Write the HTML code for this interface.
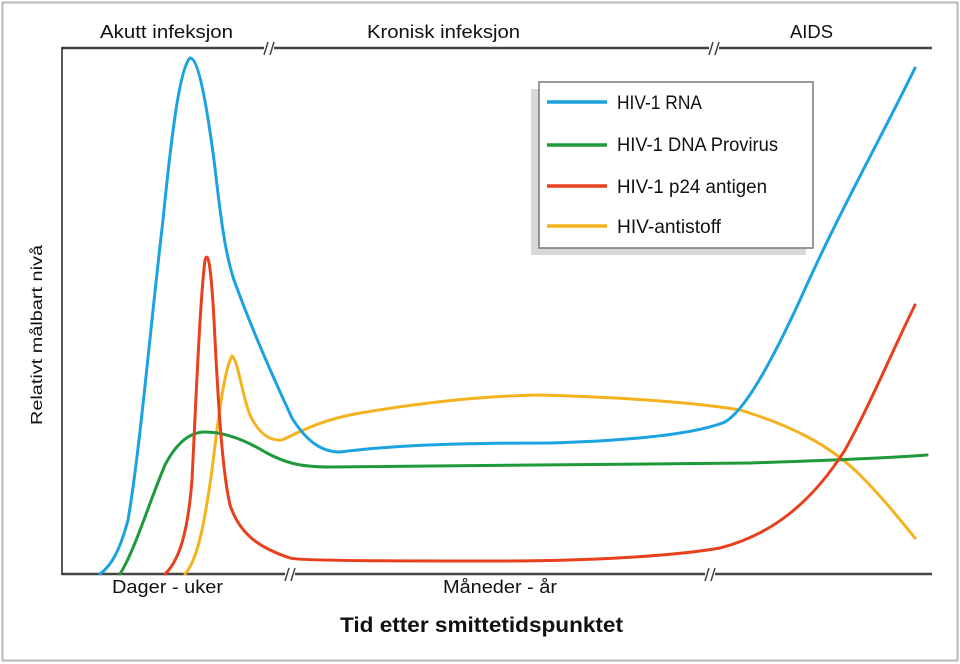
<!DOCTYPE html>
<html><head><meta charset="utf-8"><style>
html,body{margin:0;padding:0;background:#fff;}
svg{display:block;}
text{font-family:"Liberation Sans Narrow","Liberation Sans",sans-serif;fill:#111;}
</style></head><body>
<svg width="960" height="664" viewBox="0 0 960 664" xmlns="http://www.w3.org/2000/svg">
<rect x="2.5" y="2.5" width="955" height="658" fill="#fff" stroke="#b8b8b8" stroke-width="2"/>
<line x1="62" y1="48" x2="932" y2="48" stroke="#444" stroke-width="2.5"/>
<line x1="62" y1="574" x2="932" y2="574" stroke="#444" stroke-width="2.5"/>
<line x1="62" y1="47" x2="62" y2="575" stroke="#222" stroke-width="1.5"/>
<g stroke="#444" stroke-width="1.5">
<rect x="264" y="42" width="10" height="12" fill="#fff" stroke="none"/>
<line x1="264" y1="55" x2="268" y2="42"/><line x1="270" y1="55" x2="274" y2="42"/>
<rect x="709" y="42" width="10" height="12" fill="#fff" stroke="none"/>
<line x1="709" y1="55" x2="713" y2="42"/><line x1="715" y1="55" x2="719" y2="42"/>
<rect x="285" y="568" width="10" height="12" fill="#fff" stroke="none"/>
<line x1="285" y1="581" x2="289" y2="568"/><line x1="291" y1="581" x2="295" y2="568"/>
<rect x="705" y="568" width="10" height="12" fill="#fff" stroke="none"/>
<line x1="705" y1="581" x2="709" y2="568"/><line x1="711" y1="581" x2="715" y2="568"/>
</g>
<text x="100" y="38" font-size="18" textLength="133" lengthAdjust="spacingAndGlyphs">Akutt infeksjon</text>
<text x="367" y="38" font-size="18" textLength="153" lengthAdjust="spacingAndGlyphs">Kronisk infeksjon</text>
<text x="790" y="38" font-size="18" textLength="43" lengthAdjust="spacingAndGlyphs">AIDS</text>
<text x="112" y="593" font-size="18" textLength="111" lengthAdjust="spacingAndGlyphs">Dager - uker</text>
<text x="443" y="593" font-size="18" textLength="114" lengthAdjust="spacingAndGlyphs">Måneder - år</text>
<text x="340" y="632" font-size="21" font-weight="bold" textLength="283" lengthAdjust="spacingAndGlyphs">Tid etter smittetidspunktet</text>
<text transform="translate(42,425) rotate(-90)" font-size="16" textLength="180" lengthAdjust="spacingAndGlyphs">Relativt målbart nivå</text>
<g fill="none" stroke-width="3" stroke-linejoin="round" stroke-linecap="round">
<path stroke="#f4b21e" d="M185,574 C198,560 205,520 212,470 C218,420 224,370 232,356 C238,360 242,395 250,415 C258,432 268,441 282,440 C300,432 320,420 360,413 C420,403 480,396 540,395 C620,397 700,403 740,410 C790,425 830,445 860,475 C885,500 900,520 915,538"/>
<path stroke="#1e9a3a" d="M120,574 C135,550 150,500 165,465 C178,440 192,432 205,432 C225,432 245,440 265,452 C285,463 300,467 330,467 C450,466 600,464 750,463 C840,460 890,458 927,455"/>
<path stroke="#e8401c" d="M165,574 C180,560 188,530 192,480 C196,400 200,300 205,260 C208,250 211,265 214,320 C218,400 222,470 230,505 C240,535 260,548 290,558 C300,561 400,561 500,561 C600,561 680,555 720,548 C770,535 810,505 845,450 C870,405 895,345 915,305"/>
<path stroke="#1aa3e0" d="M100,574 C112,565 120,550 128,520 C140,450 150,330 163,220 C172,130 180,68 190,58 C198,58 206,100 214,160 C220,210 224,250 234,280 C252,330 272,375 292,418 C307,442 322,452 340,452 C380,447 430,443 550,443 C650,440 700,432 725,422 C745,410 770,365 800,300 C840,210 880,140 915,68"/>
</g>
<rect x="531" y="89" width="275" height="166" fill="#d8d8d8"/>
<rect x="539" y="82" width="274" height="166" fill="#fff" stroke="#777" stroke-width="1.5"/>
<g stroke-width="3.5">
<line x1="547" y1="102" x2="607" y2="102" stroke="#1aa3e0"/>
<line x1="547" y1="145" x2="607" y2="145" stroke="#1e9a3a"/>
<line x1="547" y1="186" x2="607" y2="186" stroke="#e8401c"/>
<line x1="547" y1="226" x2="607" y2="226" stroke="#f4b21e"/>
</g>
<g font-size="19">
<text x="617" y="109" textLength="85" lengthAdjust="spacingAndGlyphs">HIV-1 RNA</text>
<text x="617" y="151" textLength="161" lengthAdjust="spacingAndGlyphs">HIV-1 DNA Provirus</text>
<text x="617" y="193" textLength="150" lengthAdjust="spacingAndGlyphs">HIV-1 p24 antigen</text>
<text x="617" y="233" textLength="104" lengthAdjust="spacingAndGlyphs">HIV-antistoff</text>
</g>
</svg>
</body></html>
